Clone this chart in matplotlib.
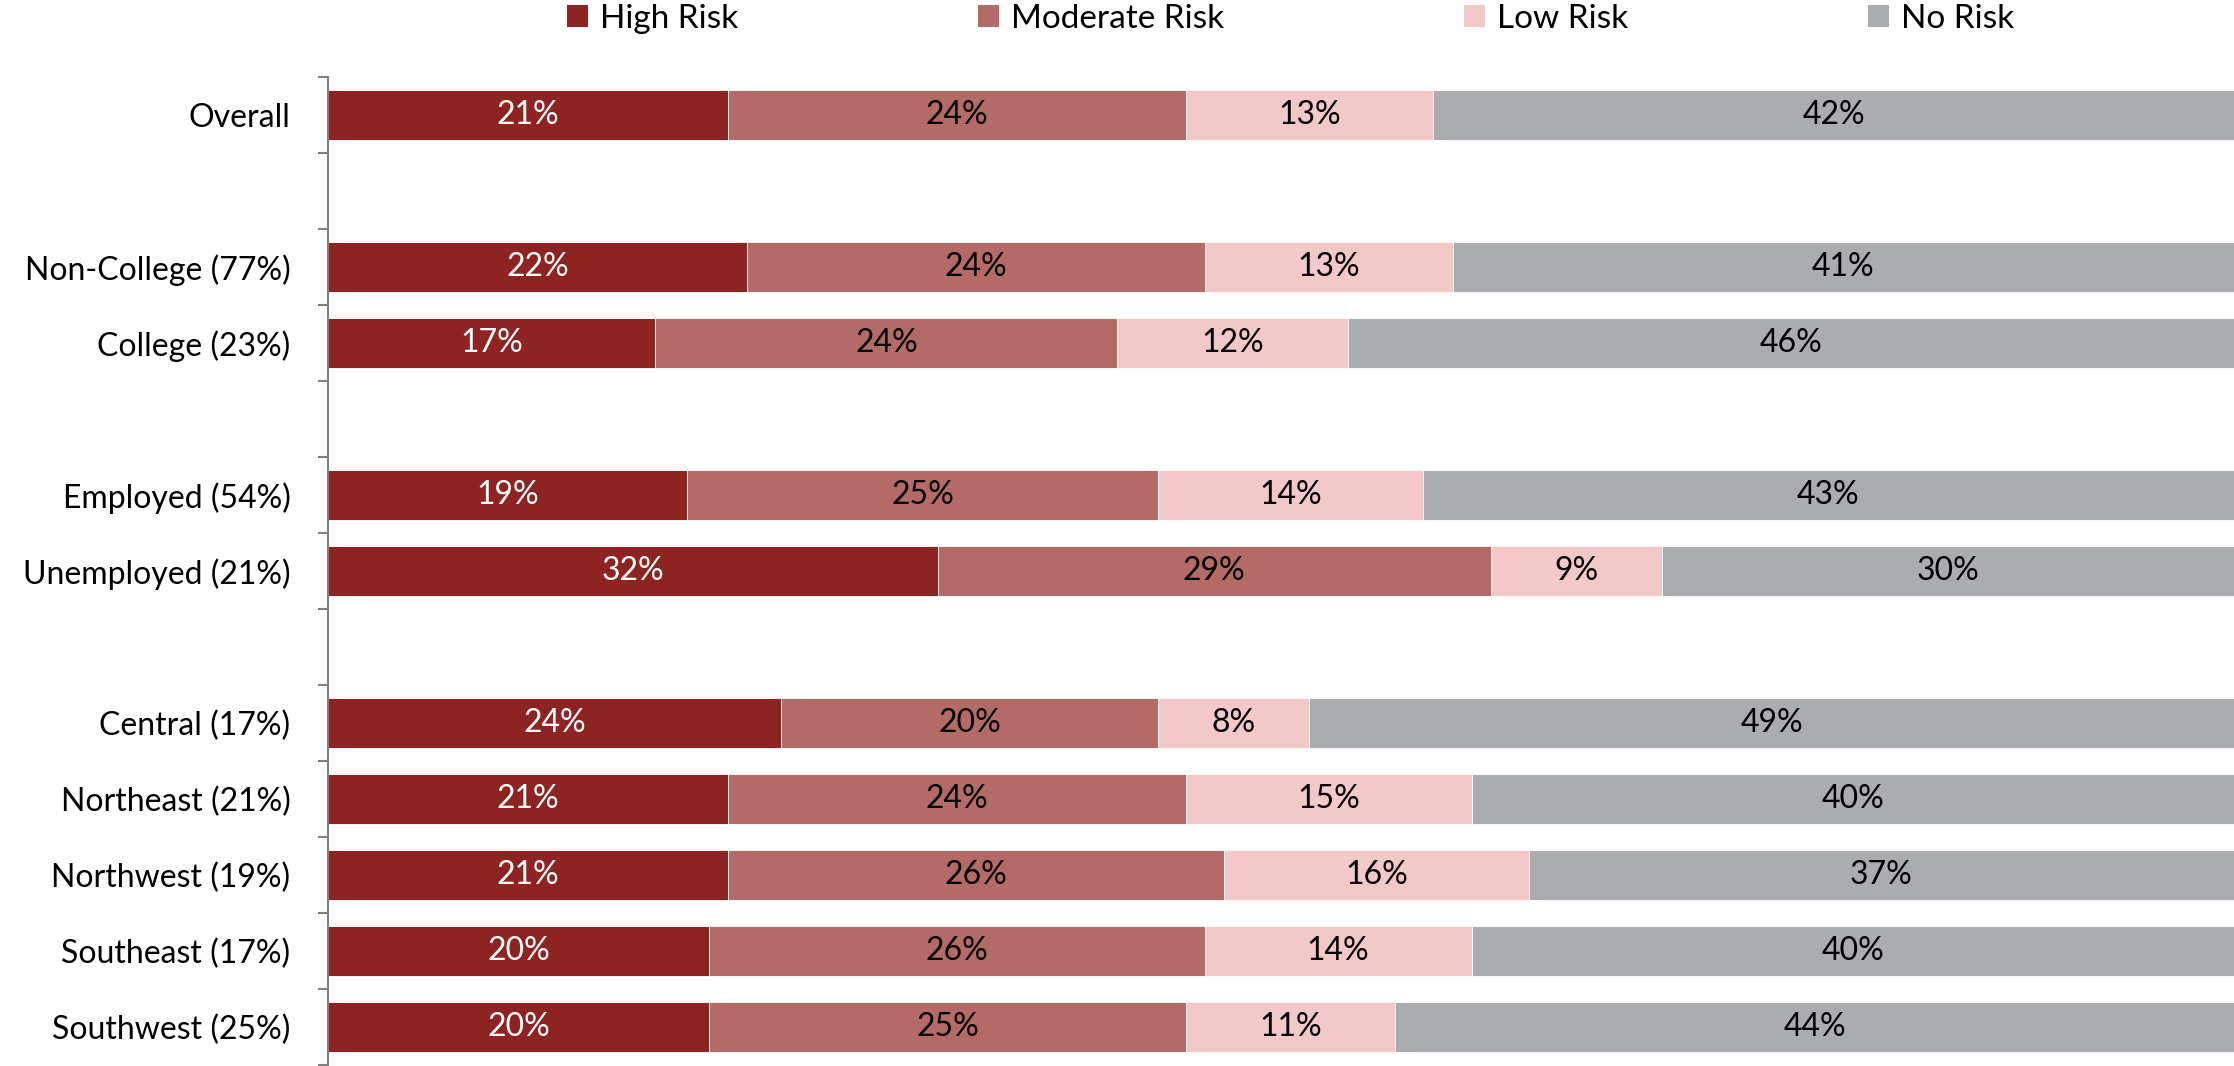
import numpy as np
import matplotlib
matplotlib.use("Agg")
import matplotlib.pyplot as plt
from matplotlib.patches import Patch

plt.rcParams['font.family'] = ['Lato', 'DejaVu Sans']

# Data
categories = ["Overall",
              "Non-College (77%)", "College (23%)",
              "Employed (54%)", "Unemployed (21%)",
              "Central (17%)", "Northeast (21%)", "Northwest (19%)",
              "Southeast (17%)", "Southwest (25%)"]
group = [0, 1, 1, 2, 2, 3, 3, 3, 3, 3]  # blank row between groups

series = ["High Risk", "Moderate Risk", "Low Risk", "No Risk"]
high_risk = [21, 22, 17, 19, 32, 24, 21, 21, 20, 20]
moderate_risk = [24, 24, 24, 25, 29, 20, 24, 26, 26, 25]
low_risk = [13, 13, 12, 14, 9, 8, 15, 16, 14, 11]
no_risk = [42, 41, 46, 43, 30, 49, 40, 37, 40, 44]

colors = ["#8E2421", "#B46B68", "#F3C8C8", "#ABACB0"]
text_colors = ["white", "black", "black", "black"]

W, H = 2234, 1066
FS = 23

vals = np.array([high_risk, moderate_risk, low_risk, no_risk], dtype=float)
shares = vals / vals.sum(axis=0) * 100  # 100% stacked, like the original
pos = np.arange(len(categories)) + np.array(group)
n_slots = pos.max() + 1

fig = plt.figure(figsize=(W / 100, H / 100), dpi=100)
ax = fig.add_axes([328 / W, 1 / H, 1 - 328 / W, (1065 - 77) / H])

left = np.zeros(len(categories))
for i in range(len(series)):
    ax.barh(pos, shares[i], left=left, height=0.67, color=colors[i],
            edgecolor="white", linewidth=0.6)
    for y, l, w, v in zip(pos, left, shares[i], vals[i]):
        ax.text(l + w / 2, y, f"{v:.0f}%", ha="center", va="center",
                color=text_colors[i], fontsize=FS)
    left += shares[i]

ax.set_xlim(0, 100)
ax.set_ylim(n_slots - 0.5, -0.5)

# tick marks on slot boundaries, labels at bar centres
ax.set_yticks(np.arange(-0.5, n_slots, 1))
ax.set_yticklabels([])
ax.tick_params(axis="y", which="major", length=7, width=1.5, color="#808080")
ax.set_yticks(pos, minor=True)
ax.set_yticklabels(categories, minor=True, fontsize=FS)
ax.tick_params(axis="y", which="minor", length=0, pad=27)

ax.xaxis.set_visible(False)
for s in ["top", "right", "bottom"]:
    ax.spines[s].set_visible(False)
ax.spines["left"].set_color("#808080")
ax.spines["left"].set_linewidth(1.5)

handles = [Patch(facecolor=c, label=s) for c, s in zip(colors, series)]
fig.legend(handles=handles, loc="center", bbox_to_anchor=(0.5777, 1 - 19 / H),
           ncol=4, frameon=False, fontsize=24, handlelength=0.62,
           handleheight=0.65, handletextpad=0.36, columnspacing=7.2,
           borderpad=0, borderaxespad=0)

fig.savefig("out.png", dpi=100)
